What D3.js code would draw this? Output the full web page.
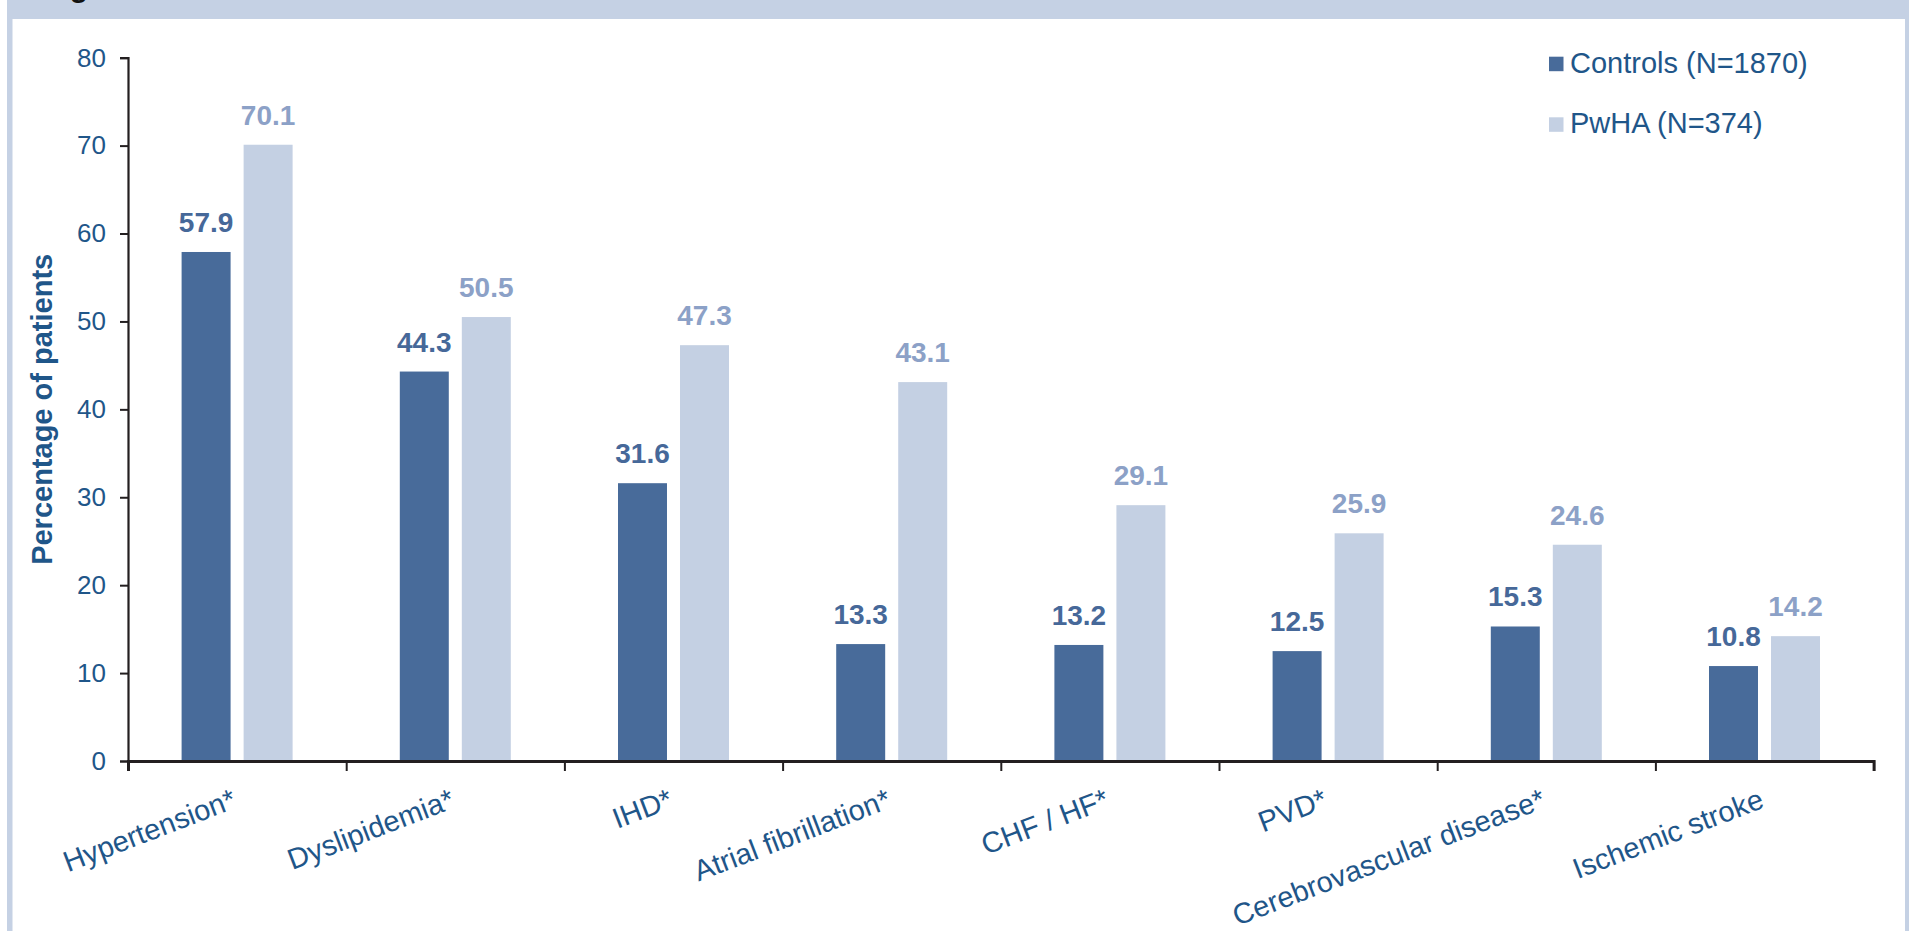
<!DOCTYPE html>
<html>
<head>
<meta charset="utf-8">
<script src="https://cdn.jsdelivr.net/npm/d3@7"></script>
<style>
  html, body { margin: 0; padding: 0; background: #fff; }
  svg { display: block; font-family: 'Liberation Sans', Arial, sans-serif; }
</style>
</head>
<body>
<svg width="1909" height="931"></svg>
<script>
const categories = ['Hypertension*', 'Dyslipidemia*', 'IHD*', 'Atrial fibrillation*',
  'CHF / HF*', 'PVD*', 'Cerebrovascular disease*', 'Ischemic stroke'];
const seriesKeys = ['controls', 'pwha'];
const seriesNames = ['Controls (N=1870)', 'PwHA (N=374)'];
const controls = [57.9, 44.3, 31.6, 13.3, 13.2, 12.5, 15.3, 10.8];
const pwha = [70.1, 50.5, 47.3, 43.1, 29.1, 25.9, 24.6, 14.2];
const yTicks = [0, 10, 20, 30, 40, 50, 60, 70, 80];

const frameColor = '#c5d1e4';
const textBlue = '#1f5689';
const axisColor = '#231f20';
const barColors = { controls: '#486b9a', pwha: '#c4d0e3' };
const labelColors = { controls: '#466899', pwha: '#8ca1c7' };

const svg = d3.select('svg');
const W = +svg.attr('width');
const H = +svg.attr('height');

// frame around the figure (its heading is cut off at the top)
svg.append('rect').attr('x', 7).attr('y', 0).attr('width', W).attr('height', 19).attr('fill', frameColor);
svg.append('rect').attr('x', 7).attr('y', 0).attr('width', 5.5).attr('height', H).attr('fill', frameColor);
svg.append('rect').attr('x', 1905).attr('y', 0).attr('width', 10).attr('height', H).attr('fill', frameColor);
svg.append('text')
  .attr('x', 43).attr('y', -3)
  .attr('font-size', 30).attr('font-weight', 'bold').attr('fill', '#111')
  .text('Figure');

const plot = { left: 128, right: 1873.6, top: 57.7, bottom: 761 };

const x0 = d3.scaleBand().domain(categories).range([plot.left, plot.right]);
const xEdge = d3.scaleLinear().domain([0, categories.length]).range([plot.left, plot.right]);
const pairWidth = 111;
const x1 = d3.scaleBand().domain(seriesKeys).range([0, pairWidth]).paddingInner(0.21);
const y = d3.scaleLinear().domain([0, 80]).range([plot.bottom, plot.top]);

const rows = categories.map((c, i) => ({ category: c, controls: controls[i], pwha: pwha[i] }));

// Bars
const groups = svg.append('g')
  .selectAll('g')
  .data(rows)
  .enter()
  .append('g')
  .attr('transform', d => `translate(${x0(d.category) + (x0.bandwidth() - pairWidth) / 2},0)`);

groups.selectAll('rect')
  .data(d => seriesKeys.map(key => ({ key, value: d[key] })))
  .enter()
  .append('rect')
  .attr('x', d => x1(d.key))
  .attr('y', d => y(d.value))
  .attr('width', x1.bandwidth())
  .attr('height', d => y(0) - y(d.value))
  .attr('fill', d => barColors[d.key]);

groups.selectAll('text')
  .data(d => seriesKeys.map(key => ({ key, value: d[key] })))
  .enter()
  .append('text')
  .attr('x', d => x1(d.key) + x1.bandwidth() / 2)
  .attr('y', d => y(d.value) - 20)
  .attr('text-anchor', 'middle')
  .attr('font-size', 28)
  .attr('font-weight', 'bold')
  .attr('fill', d => labelColors[d.key])
  .text(d => d.value.toFixed(1));

// Y-Axis
const yAxis = svg.append('g')
  .attr('transform', `translate(${plot.left},0)`)
  .call(d3.axisLeft(y).tickValues(yTicks).tickSize(8).tickPadding(14));
yAxis.select('.domain').attr('stroke', axisColor).attr('stroke-width', 2.2);
yAxis.selectAll('.tick line').attr('stroke', axisColor).attr('stroke-width', 2);
yAxis.selectAll('.tick text')
  .attr('font-size', 26)
  .attr('font-family', "'Liberation Sans', Arial, sans-serif")
  .attr('fill', textBlue);

// X-Axis
const xAxis = svg.append('g')
  .attr('transform', `translate(0,${plot.bottom})`)
  .call(d3.axisBottom(xEdge).ticks(categories.length).tickSize(10).tickSizeOuter(10).tickFormat(''));
xAxis.select('.domain').attr('stroke', axisColor).attr('stroke-width', 3);
xAxis.selectAll('.tick line').attr('stroke', axisColor).attr('stroke-width', 2);

svg.append('g')
  .selectAll('text')
  .data(categories)
  .enter()
  .append('text')
  .attr('transform', d => `translate(${x0(d) + x0.bandwidth() / 2 + 1},807) rotate(-21)`)
  .attr('text-anchor', 'end')
  .attr('font-size', 29)
  .attr('fill', textBlue)
  .text(d => d);

// Y title
svg.append('text')
  .attr('transform', `translate(52,${(plot.top + plot.bottom) / 2}) rotate(-90)`)
  .attr('text-anchor', 'middle')
  .attr('font-size', 29)
  .attr('font-weight', 'bold')
  .attr('fill', textBlue)
  .text('Percentage of patients');

// Legend
const legend = svg.append('g')
  .selectAll('g')
  .data(seriesKeys)
  .enter()
  .append('g')
  .attr('transform', (d, i) => `translate(1549,${72.7 + i * 60.6})`);

legend.append('rect')
  .attr('x', 0)
  .attr('y', -16)
  .attr('width', 14.5)
  .attr('height', 14.5)
  .attr('fill', d => barColors[d]);

legend.append('text')
  .attr('x', 21)
  .attr('y', 0)
  .attr('font-size', 29)
  .attr('fill', textBlue)
  .text((d, i) => seriesNames[i]);
</script>
</body>
</html>
